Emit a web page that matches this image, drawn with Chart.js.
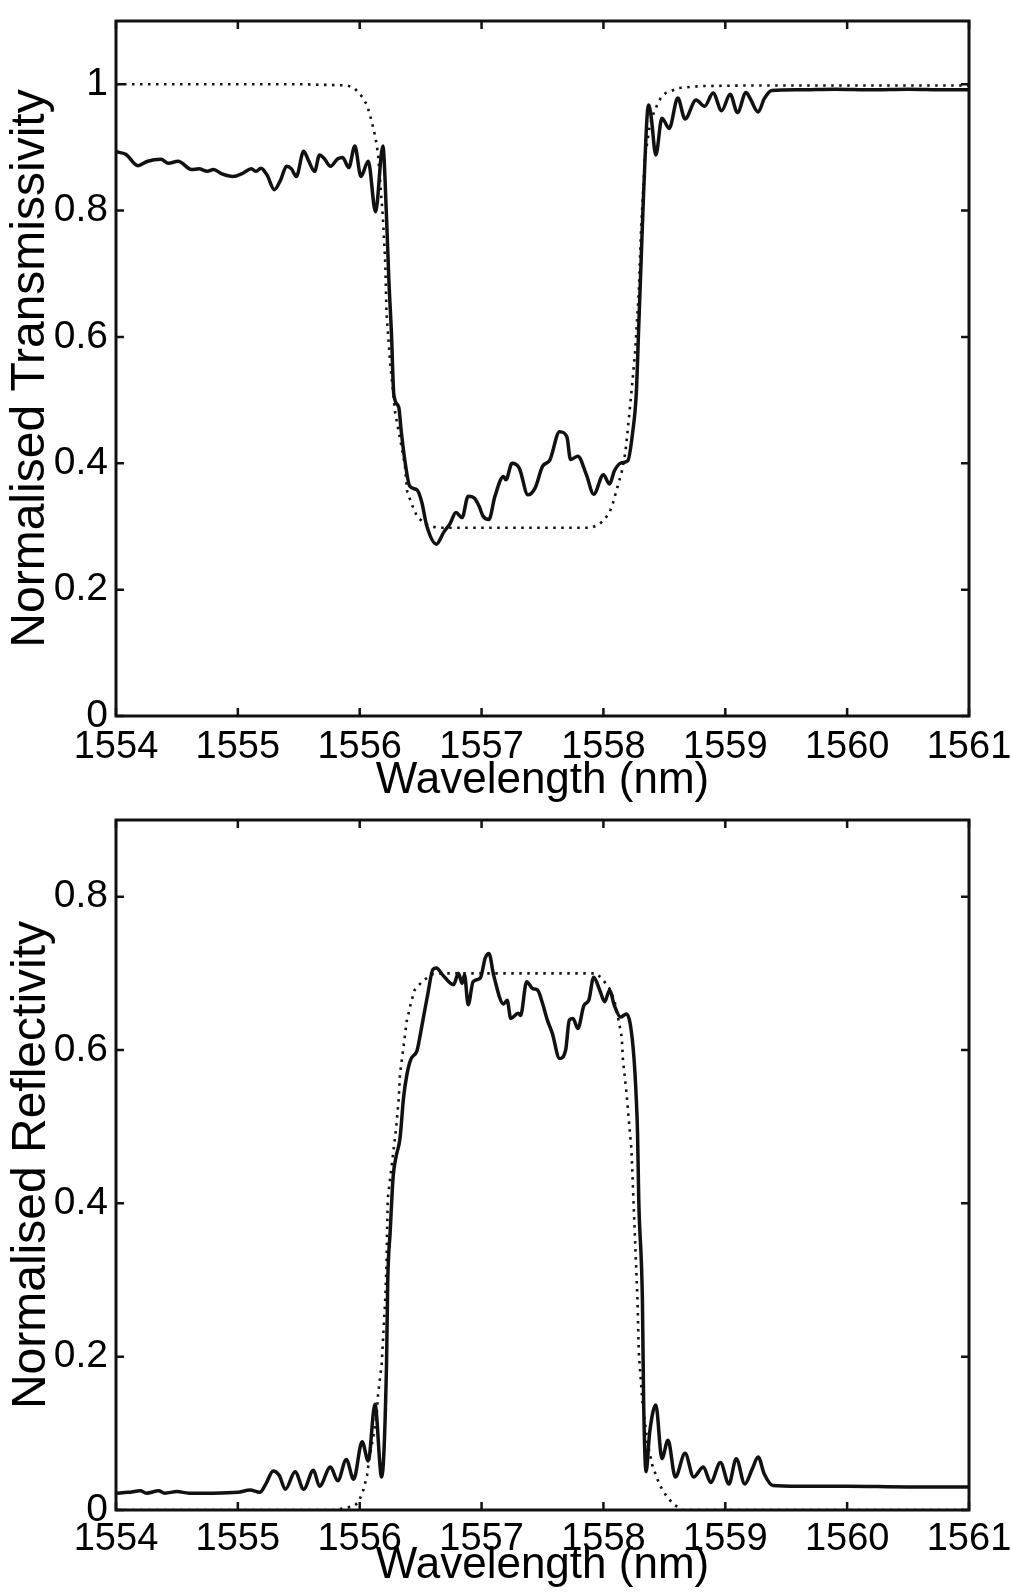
<!DOCTYPE html>
<html><head><meta charset="utf-8">
<script src="https://cdn.jsdelivr.net/npm/chart.js@4/dist/chart.umd.min.js"></script>
<style>html,body{margin:0;padding:0;background:#fff;}
#wrap{position:relative;width:1012px;height:1592px;}
canvas{display:block;position:absolute;left:0;}
#c1{top:0;} #c2{top:800px;}</style>
</head><body>
<div id="wrap">
<canvas id="c1" width="1012" height="812"></canvas>
<canvas id="c2" width="1012" height="792"></canvas>
</div>
<script>
// ---- tick labels ----
const xTicks = [1554, 1555, 1556, 1557, 1558, 1559, 1560, 1561];
const tTicks = [0, 0.2, 0.4, 0.6, 0.8, 1];
const rTicks = [0, 0.2, 0.4, 0.6, 0.8];

// ---- Transmissivity: measured (solid) ----
const tMeasWl = [1554.00,1554.08,1554.18,1554.26,1554.37,1554.43,1554.51,1554.62,1554.68,1554.75,1554.80,1554.87,1554.96,1555.04,1555.11,1555.15,1555.19,1555.24,1555.30,1555.35,1555.40,1555.44,1555.48,1555.54,1555.58,1555.63,1555.67,1555.71,1555.76,1555.82,1555.86,1555.91,1555.96,1556.01,1556.07,1556.13,1556.19,1556.22,1556.24,1556.26,1556.28,1556.32,1556.34,1556.37,1556.41,1556.47,1556.51,1556.55,1556.63,1556.69,1556.74,1556.79,1556.84,1556.89,1556.94,1556.98,1557.01,1557.06,1557.11,1557.18,1557.20,1557.25,1557.31,1557.38,1557.44,1557.50,1557.56,1557.64,1557.70,1557.73,1557.79,1557.86,1557.92,1558.00,1558.05,1558.09,1558.15,1558.20,1558.24,1558.27,1558.29,1558.31,1558.33,1558.37,1558.39,1558.43,1558.48,1558.54,1558.61,1558.67,1558.76,1558.83,1558.90,1558.97,1559.04,1559.10,1559.17,1559.20,1559.27,1559.32,1559.38,1559.60,1559.90,1560.20,1560.50,1560.80,1561.00];
const tMeas = [0.893,0.889,0.871,0.878,0.881,0.875,0.878,0.865,0.866,0.862,0.865,0.858,0.854,0.859,0.866,0.862,0.867,0.856,0.833,0.848,0.870,0.866,0.854,0.894,0.879,0.862,0.888,0.882,0.870,0.882,0.884,0.868,0.902,0.854,0.878,0.798,0.902,0.790,0.686,0.608,0.509,0.489,0.452,0.405,0.364,0.358,0.338,0.301,0.272,0.291,0.304,0.322,0.314,0.348,0.345,0.332,0.317,0.311,0.348,0.379,0.374,0.400,0.392,0.350,0.361,0.395,0.405,0.450,0.442,0.406,0.411,0.382,0.351,0.382,0.367,0.388,0.401,0.404,0.449,0.512,0.618,0.724,0.829,0.967,0.951,0.888,0.946,0.930,0.978,0.945,0.975,0.965,0.986,0.958,0.984,0.955,0.987,0.979,0.956,0.977,0.990,0.991,0.992,0.991,0.992,0.991,0.991];

// ---- Transmissivity: theory (dotted) ----
const tTheoWl = [1554.00,1555.50,1555.90,1555.96,1556.02,1556.06,1556.10,1556.13,1556.15,1556.19,1556.21,1556.22,1556.25,1556.29,1556.33,1556.37,1556.39,1556.43,1556.47,1556.53,1556.58,1556.65,1557.90,1557.96,1558.00,1558.05,1558.08,1558.11,1558.15,1558.18,1558.20,1558.23,1558.26,1558.29,1558.31,1558.34,1558.38,1558.42,1558.47,1558.51,1558.62,1558.80,1559.20,1561.00];
const tTheo = [1.000,1.000,0.998,0.993,0.980,0.967,0.940,0.915,0.890,0.790,0.716,0.638,0.559,0.481,0.440,0.398,0.355,0.334,0.316,0.305,0.300,0.298,0.298,0.303,0.309,0.322,0.338,0.359,0.386,0.417,0.454,0.513,0.576,0.671,0.776,0.882,0.935,0.959,0.978,0.986,0.994,0.997,0.998,0.998];

// ---- Reflectivity: measured (solid) ----
const rMeasWl = [1554.00,1554.10,1554.20,1554.25,1554.35,1554.40,1554.50,1554.60,1554.80,1555.00,1555.10,1555.18,1555.23,1555.29,1555.34,1555.39,1555.47,1555.54,1555.62,1555.67,1555.76,1555.82,1555.89,1555.95,1556.02,1556.07,1556.125,1556.18,1556.22,1556.23,1556.25,1556.275,1556.30,1556.33,1556.36,1556.385,1556.42,1556.47,1556.49,1556.52,1556.56,1556.60,1556.63,1556.68,1556.77,1556.81,1556.84,1556.86,1556.89,1556.93,1556.99,1557.03,1557.06,1557.10,1557.18,1557.21,1557.24,1557.30,1557.32,1557.37,1557.42,1557.46,1557.50,1557.54,1557.58,1557.64,1557.69,1557.72,1557.75,1557.79,1557.84,1557.88,1557.92,1557.97,1558.01,1558.05,1558.09,1558.14,1558.19,1558.22,1558.25,1558.27,1558.28,1558.29,1558.32,1558.33,1558.35,1558.38,1558.43,1558.48,1558.53,1558.59,1558.67,1558.74,1558.82,1558.88,1558.96,1559.03,1559.09,1559.16,1559.22,1559.27,1559.32,1559.39,1559.60,1560.00,1560.50,1561.00];
const rMeas = [0.022,0.023,0.025,0.022,0.025,0.022,0.024,0.022,0.022,0.023,0.026,0.023,0.034,0.051,0.045,0.027,0.050,0.027,0.052,0.031,0.056,0.038,0.066,0.040,0.089,0.064,0.138,0.043,0.190,0.298,0.363,0.436,0.462,0.484,0.538,0.566,0.588,0.599,0.614,0.640,0.674,0.705,0.707,0.698,0.685,0.700,0.687,0.698,0.659,0.689,0.694,0.720,0.726,0.697,0.660,0.665,0.641,0.648,0.645,0.689,0.680,0.678,0.661,0.639,0.622,0.589,0.600,0.639,0.641,0.628,0.658,0.665,0.695,0.678,0.663,0.678,0.658,0.643,0.647,0.634,0.591,0.535,0.491,0.404,0.272,0.141,0.050,0.102,0.137,0.067,0.091,0.043,0.074,0.043,0.056,0.036,0.062,0.034,0.067,0.034,0.053,0.069,0.047,0.032,0.031,0.031,0.030,0.030];

// ---- Reflectivity: theory (dotted) ----
const rTheoWl = [1554.00,1555.80,1555.95,1555.99,1556.03,1556.06,1556.08,1556.11,1556.14,1556.15,1556.18,1556.21,1556.22,1556.23,1556.275,1556.30,1556.32,1556.33,1556.36,1556.385,1556.42,1556.45,1556.515,1556.60,1556.70,1557.94,1557.99,1558.05,1558.09,1558.13,1558.15,1558.16,1558.19,1558.21,1558.23,1558.245,1558.26,1558.28,1558.29,1558.32,1558.36,1558.40,1558.46,1558.51,1558.57,1558.65,1561.00];
const rTheo = [0.000,0.000,0.005,0.010,0.026,0.045,0.069,0.094,0.125,0.150,0.190,0.276,0.320,0.406,0.466,0.500,0.536,0.568,0.605,0.637,0.661,0.678,0.690,0.699,0.700,0.700,0.693,0.680,0.665,0.634,0.617,0.587,0.543,0.506,0.470,0.410,0.350,0.272,0.206,0.141,0.089,0.059,0.033,0.020,0.008,0.000,0.000];

const FONT = '"Liberation Sans", Arial, Helvetica, sans-serif';
const INK = '#111';

const framePlugin = {
  id: 'frame',
  afterDatasetsDraw(chart) {
    const {ctx, chartArea: a, scales: {x, y}} = chart;
    ctx.save();
    ctx.strokeStyle = INK;
    ctx.lineWidth = 3;
    ctx.strokeRect(a.left, a.top, a.right - a.left, a.bottom - a.top);
    ctx.lineWidth = 2.5;
    const L = 8;
    ctx.beginPath();
    x.ticks.forEach(t => {
      const px = x.getPixelForValue(t.value);
      ctx.moveTo(px, a.bottom); ctx.lineTo(px, a.bottom - L);
      ctx.moveTo(px, a.top); ctx.lineTo(px, a.top + L);
    });
    y.ticks.forEach(t => {
      const py = y.getPixelForValue(t.value);
      ctx.moveTo(a.left, py); ctx.lineTo(a.left + L, py);
      ctx.moveTo(a.right, py); ctx.lineTo(a.right - L, py);
    });
    ctx.stroke();
    ctx.restore();
  }
};

function pts(xs, ys) { return xs.map((v, i) => ({x: v, y: ys[i]})); }

function makeChart(id, measWl, meas, theoWl, theo, yTicks, yMax, yTitle, cfg) {
  return new Chart(document.getElementById(id), {
    type: 'line',
    data: {
      datasets: [
        {label: 'Theory', data: pts(theoWl, theo), borderColor: INK, borderWidth: 2.6,
         borderDash: [2.5, 5.5], pointRadius: 0, tension: 0, fill: false},
        {label: 'Measured', data: pts(measWl, meas), borderColor: INK, borderWidth: 3.5,
         pointRadius: 0, cubicInterpolationMode: 'monotone', fill: false}
      ]
    },
    options: {
      responsive: false,
      animation: false,
      events: [],
      layout: {padding: {left: 0, right: 43, top: cfg.top, bottom: 0}},
      plugins: {legend: {display: false}, tooltip: {enabled: false}, title: {display: false}},
      elements: {point: {radius: 0}},
      scales: {
        x: {
          type: 'linear', min: 1554, max: 1561,
          afterBuildTicks: s => { s.ticks = xTicks.map(v => ({value: v})); },
          afterFit: s => { s.height = cfg.xh; s.paddingLeft = 0; s.paddingRight = 0; },
          grid: {display: false, drawTicks: false},
          border: {display: false},
          ticks: {color: '#000', font: {family: FONT, size: 38, lineHeight: 1.2},
                  padding: cfg.xpad, maxRotation: 0, autoSkip: false,
                  callback: v => String(v)},
          title: {display: true, text: 'Wavelength (nm)', color: '#000',
                  font: {family: FONT, size: 44, lineHeight: 1},
                  padding: {top: 0, bottom: cfg.xtp}}
        },
        y: {
          type: 'linear', min: 0, max: yMax,
          afterBuildTicks: s => { s.ticks = yTicks.map(v => ({value: v})); },
          afterFit: s => { s.width = 116; s.paddingTop = 0; s.paddingBottom = 0; },
          grid: {display: false, drawTicks: false},
          border: {display: false},
          ticks: {color: '#000', font: {family: FONT, size: 39, lineHeight: 1.2},
                  padding: 8, callback: v => String(v)},
          title: {display: true, text: yTitle, color: '#000',
                  font: {family: FONT, size: 48, lineHeight: 1},
                  padding: {top: cfg.ytp, bottom: 0}}
        }
      }
    },
    plugins: [framePlugin]
  });
}

makeChart('c1', tMeasWl, tMeas, tTheoWl, tTheo, tTicks, 1.1, 'Normalised Transmissivity',
  {top: 21, xh: 96, xpad: 9, xtp: 9, ytp: 7});
makeChart('c2', rMeasWl, rMeas, rTheoWl, rTheo, rTicks, 0.9, 'Normalised Reflectivity',
  {top: 20, xh: 82, xpad: 7, xtp: 4, ytp: 8});
</script>
</body></html>
